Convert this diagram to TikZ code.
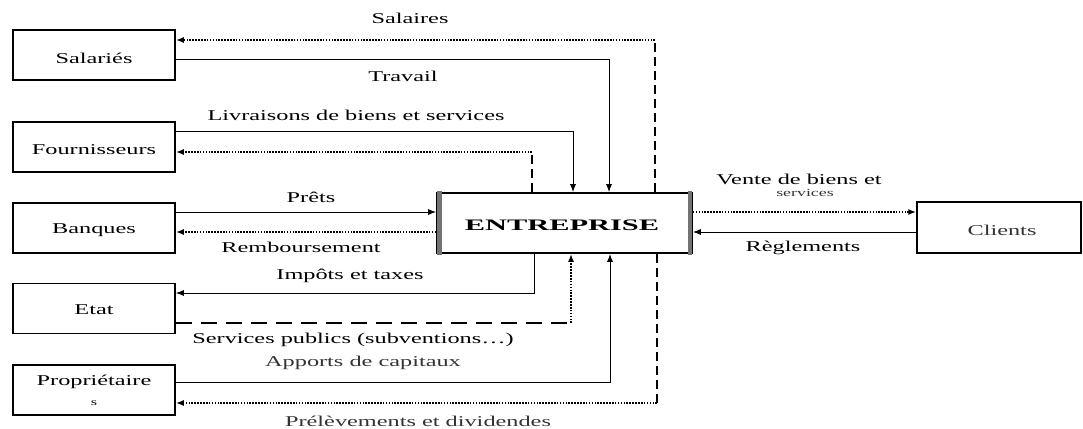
\documentclass[tikz,border=0pt]{standalone}
\usepackage{fontspec}
\setmainfont{Liberation Serif}
\usetikzlibrary{arrows.meta}
\newcommand\wtext[1]{\scalebox{1.62}[1]{#1}}
\tikzset{
  party/.style={draw, line width=1.5pt, minimum width=162pt, minimum height=50pt, inner sep=0pt},
  lbl/.style={inner sep=0pt, font=\fontsize{15}{17}\selectfont},
  flow/.style={line width=1pt, -{Latex[length=8pt,width=6pt]}},
  dotflow/.style={line width=1.6pt, dash pattern=on 1.6pt off 1.3pt, -{Latex[length=8pt,width=6pt]}},
  dashup/.style={line width=2.4pt, dash pattern=on 9pt off 5pt},
  longdash/.style={line width=1.3pt, dash pattern=on 16pt off 9pt}
}
\begin{document}
\begin{tikzpicture}[x=1pt,y=-1pt]
\useasboundingbox (0,0) rectangle (1083,428);

% partners on the left
\node[party] (sal)  at (94,55)    {};
\node[party] (four) at (94,147)   {};
\node[party] (banq) at (94,228)   {};
\node[party] (etat) at (94,308.5) {};
\node[party] (prop) at (94,390)   {};
\node[lbl] (salt)  at (94,58)  {\wtext{Salariés}};
\node[lbl] (fourt) at (94,150) {\wtext{Fournisseurs}};
\node[lbl] (banqt) at (94,230) {\wtext{Banques}};
\node[lbl] (etatt) at (94,310) {\wtext{Etat}};
\node[lbl] (propt) at (94,382) {\wtext{Propriétaire}};
\node[lbl, font=\fontsize{10}{11}\selectfont] (props) at (94,403) {\wtext{s}};

% the firm
\node[draw, line width=1.6pt, minimum width=255pt, minimum height=60pt, inner sep=0pt] (ent) at (564.5,223) {};
\fill[black!55] ([xshift=1pt,yshift=1pt]ent.north west) rectangle ([xshift=6pt,yshift=-1pt]ent.south west);
\fill[black!55] ([xshift=-5pt,yshift=1pt]ent.north east) rectangle ([xshift=-1pt,yshift=-1pt]ent.south east);
\node[lbl, font=\fontsize{16}{18}\selectfont\bfseries] (entt) at (562,225) {\scalebox{1.9}[1]{ENTREPRISE}};

% customers
\node[draw, line width=1.5pt, minimum width=164pt, minimum height=51pt, inner sep=0pt] (cli) at (999,227.5) {};
\node[lbl, text=black!80] (clit) at (1002,230) {\wtext{Clients}};

% corner points of the flows
\coordinate (salc) at (655,40);
\coordinate (trac) at (609,60);
\coordinate (livc) at (573,131);
\coordinate (fouc) at (532,152);
\coordinate (prec) at (300,212);
\coordinate (remc) at (300,232);
\coordinate (impc) at (534,293);
\coordinate (serc) at (571,323);
\coordinate (appc) at (610,382);
\coordinate (prlc) at (657,403);

% employees
\draw[dashup] (ent.north -| salc) -- (salc);
\draw[dotflow] (salc) -- (salc -| sal.east);
\draw[flow] (trac -| sal.east) -- (trac) -- (trac |- ent.north);
% suppliers
\draw[flow] (livc -| four.east) -- (livc) -- (livc |- ent.north);
\draw[dashup] (ent.north -| fouc) -- (fouc);
\draw[dotflow] (fouc) -- (fouc -| four.east);
% banks
\draw[flow] (prec -| banq.east) -- (prec -| ent.west);
\draw[dotflow] (remc -| ent.west) -- (remc -| banq.east);
% state
\draw[flow] (ent.south -| impc) -- (impc) -- (impc -| etat.east);
\draw[longdash] (serc -| etat.east) -- (serc);
\draw[dotflow] (serc) -- (serc |- ent.south);
% owners
\draw[flow] (appc -| prop.east) -- (appc) -- (appc |- ent.south);
\draw[dashup] (ent.south -| prlc) -- (prlc);
\draw[dotflow] (prlc) -- (prlc -| prop.east);
% customers
\draw[dotflow] (prec -| ent.east) -- (prec -| cli.west);
\draw[flow] (remc -| cli.west) -- (remc -| ent.east);

% flow labels
\node[lbl] (l1)  at (410,18)  {\wtext{Salaires}};
\node[lbl] (l2)  at (403,76)  {\wtext{Travail}};
\node[lbl] (l3)  at (356,115) {\wtext{Livraisons de biens et services}};
\node[lbl] (l4)  at (311,197) {\wtext{Prêts}};
\node[lbl] (l5)  at (301,247) {\wtext{Remboursement}};
\node[lbl] (l6)  at (350,276) {\wtext{Impôts et taxes}};
\node[lbl] (l7)  at (353,340) {\wtext{Services publics (subventions…)}};
\node[lbl, text=black!80] (l8)  at (363,363) {\wtext{Apports de capitaux}};
\node[lbl, text=black!80] (l9)  at (418,421) {\wtext{Prélèvements et dividendes}};
\node[lbl] (l10) at (799,179) {\wtext{Vente de biens et}};
\node[lbl, font=\fontsize{11}{12}\selectfont, text=black!80] (l11) at (805,193) {\wtext{services}};
\node[lbl] (l12) at (803,248) {\wtext{Règlements}};
\end{tikzpicture}
\end{document}
